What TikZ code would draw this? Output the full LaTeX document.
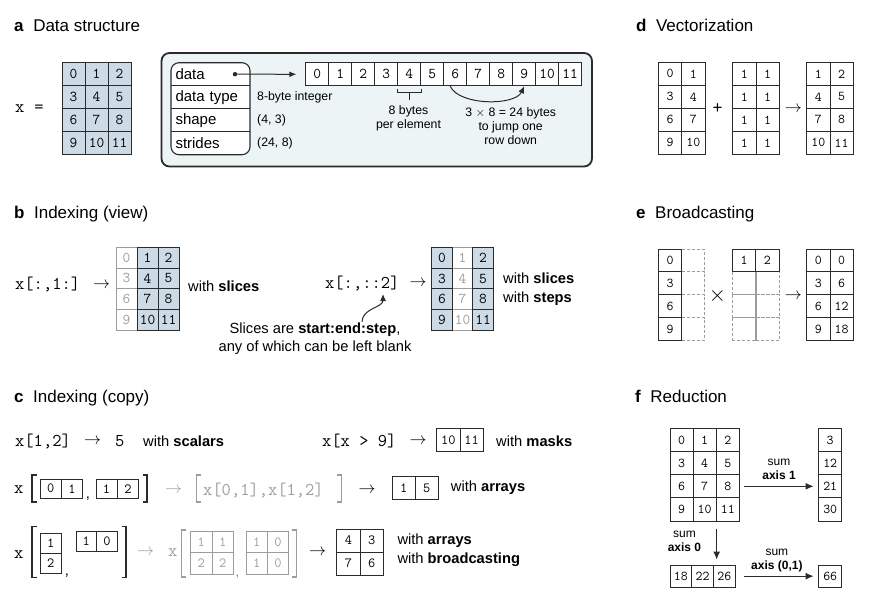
\documentclass[tikz,border=0pt]{standalone}
\usepackage{fix-cm}
\usepackage{fontspec}
\setmainfont{Liberation Sans}
\usetikzlibrary{arrows.meta}
\definecolor{cellblue}{HTML}{CDDBE6}
\definecolor{boxfill}{HTML}{EDF4F6}
\definecolor{lc}{HTML}{2B2B2B}
\definecolor{faded}{HTML}{9D9D9D}

\begin{document}
\begin{tikzpicture}[x=1pt,y=-1pt,>={Latex[length=7pt,width=6pt]},
  head/.style={inner sep=0pt,anchor=base west,font=\fontsize{17}{20}\selectfont},
  txt/.style={inner sep=0pt,font=\fontsize{14.7}{19}\selectfont},
  small/.style={inner sep=0pt,align=center,font=\fontsize{12.3}{14.3}\selectfont},
  code/.style={inner sep=0pt,anchor=west,font=\fontsize{18}{20}\ttfamily},
  arr/.style={inner sep=0pt,font=\fontsize{17}{17}\selectfont},
  cell/.style={draw=lc,line width=0.9pt,inner sep=0pt,minimum width=23pt,minimum height=23pt,font=\fontsize{15}{15}\ttfamily},
  cellc/.style={cell,font=\fontsize{14}{14}\ttfamily},
  celld/.style={cell,minimum width=23.3pt,font=\fontsize{13.5}{13.5}\ttfamily},
  field/.style={inner xsep=4.5pt,inner ysep=0pt,minimum height=23pt,text width=70pt,font=\fontsize{15}{15}\selectfont},
  ghost/.style={draw=faded,line width=0.9pt,dash pattern=on 3pt off 2pt,inner sep=0pt},
  brk/.style={line width=1.4pt,draw=lc},
  link/.style={->,line width=1pt,draw=lc}]
\useasboundingbox (0,0) rectangle (877,610);

\node[head] (ha) at (14,32) {\textbf{a}\hspace{9.5pt}Data structure};
\node[code] (xeq) at (15,109) {x\hspace{10pt}=};
\foreach \v [count=\k from 0] in {0,...,11}
  \node[cell,fill=cellblue] (xa\v) at ({73.5+23*mod(\k,3)},{73.8+23*int(\k/3)}) {\v};

\draw[line width=1.8pt,draw=lc,fill=boxfill,rounded corners=8pt] (161.5,53) rectangle (592,166.5);
\draw[line width=1.1pt,draw=lc,fill=white,rounded corners=8pt] (171,62.7) rectangle (250,154.7);
\node[field] (fdata) at (210.5,74.2) {data};
\node[field] (ftype) at (210.5,97.2) {data type};
\node[field] (fshape) at (210.5,120.2) {shape};
\node[field] (fstrides) at (210.5,143.2) {strides};
\draw[line width=1.1pt,draw=lc] (fdata.south west) -- (fdata.south east)
  (ftype.south west) -- (ftype.south east) (fshape.south west) -- (fshape.south east);
\node[small,anchor=west] (vtype) at (257,97.5) {8-byte integer};
\node[small,anchor=west] (vshape) at (257,120.2) {(4, 3)};
\node[small,anchor=west] (vstrides) at (257,143.2) {(24, 8)};

\foreach \v in {0,...,11}
  \node[cell,fill=white] (m\v) at ({317.2+23*\v},74.3) {\v};
\node[circle,fill=lc,inner sep=0pt,minimum size=4.5pt] (ptr) at (235,74.2) {};
\draw[link,shorten >=9pt] (ptr) -- (m0);
\draw[line width=0.9pt,draw=lc] ([yshift=-3pt]m4.south west) -- ([yshift=-6pt]m4.south west)
  -- ([yshift=-6pt]m4.south east) -- ([yshift=-3pt]m4.south east);
\draw[line width=0.9pt,draw=lc] ([yshift=-6pt]m4.south) -- ([yshift=-14pt]m4.south);
\node[small] (per) at (408.5,118) {8 bytes\\per element};
\draw[link] ([xshift=-5pt]m6.south) to[out=-65,in=-115,looseness=0.75] (m9.south);
\node[small] (jump) at (510.7,126) {3 $\times$ 8 = 24 bytes\\to jump one\\row down};

\node[head] (hb) at (14,218) {\textbf{b}\hspace{9.5pt}Indexing (view)};
\node[code] (sl1) at (15,285) {x[:,1:]};
\node[arr] (ar1) at (101.5,285) {$\rightarrow$};
\foreach \v [count=\r from 0] in {0,3,6,9}
  \node[cell,minimum width=21pt,minimum height=20.7pt,draw=faded,text=faded] (sa\v) at (126.5,{257.65+20.7*\r}) {\v};
\foreach \v [count=\k from 0] in {1,2,4,5,7,8,10,11}
  \node[cell,minimum width=21pt,minimum height=20.7pt,fill=cellblue] (sa\v) at ({147.5+21*mod(\k,2)},{257.65+20.7*int(\k/2)}) {\v};
\node[txt,anchor=west] (ws1) at (188,286.7) {with \textbf{slices}};

\node[code] (sl2) at (325,283.3) {x[:,::2]};
\node[arr] (ar2) at (418,283.3) {$\rightarrow$};
\foreach \v [count=\r from 0] in {1,4,7,10}
  \node[cell,minimum width=20.55pt,minimum height=20.6pt,draw=faded,text=faded] (sb\v) at (462.5,{258+20.6*\r}) {\v};
\foreach \v [count=\k from 0] in {0,2,3,5,6,8,9,11}
  \node[cell,minimum width=20.55pt,minimum height=20.6pt,fill=cellblue] (sb\v) at ({442+41.1*mod(\k,2)},{258+20.6*int(\k/2)}) {\v};
\node[txt,anchor=west,align=left] (ws2) at (503,289) {with \textbf{slices}\\with \textbf{steps}};
\node[txt,align=center,font=\fontsize{14.7}{17.5}\selectfont] (note) at (315,338.7) {Slices are \textbf{start:end:step},\\any of which can be left blank};
\coordinate (two) at (383,294);
\draw[link] ([xshift=47pt,yshift=1pt]note.north) to[out=90,in=-90] (two);

\node[head] (hc) at (14,402) {\textbf{c}\hspace{9.5pt}Indexing (copy)};
\node[code] (sc) at (15,441) {x[1,2]};
\node[arr] (ar3) at (92.5,441) {$\rightarrow$};
\node[code] (five) at (115,441) {5};
\node[txt,anchor=west] (wsc) at (143,441) {with \textbf{scalars}};
\node[code] (mk) at (322,441) {x[x > 9]};
\node[arr] (ar4) at (418,441) {$\rightarrow$};
\node[cellc,minimum width=23.3pt,minimum height=23.4pt] (mk10) at (448.35,440) {10};
\node[cellc,minimum width=23.3pt,minimum height=23.4pt] (mk11) at (471.65,440) {11};
\node[txt,anchor=west] (wmk) at (496,441) {with \textbf{masks}};

\node[code] (x2) at (14,490) {x};
\draw[brk] (36.5,475) -- (32,475) -- (32,502) -- (36.5,502);
\node[cellc,minimum width=21.3pt,minimum height=19.3pt] (ia0) at (50.65,488.65) {0};
\node[cellc,minimum width=21.3pt,minimum height=19.3pt] (ia1) at (71.95,488.65) {1};
\node[txt] (cm1) at (88,499) {,};
\node[cellc,minimum width=21.3pt,minimum height=19.3pt] (ib1) at (106.6,488.65) {1};
\node[cellc,minimum width=21.3pt,minimum height=19.3pt] (ib2) at (127.9,488.65) {2};
\draw[brk] (142.5,475) -- (147,475) -- (147,502) -- (142.5,502);
\node[arr,text=faded] (ar5) at (173.5,490) {$\rightarrow$};
\draw[brk,draw=faded] (201,475) -- (196.7,475) -- (196.7,502) -- (201,502);
\node[code,text=faded] (gidx) at (203,490) {x[0,1],x[1,2]};
\draw[brk,draw=faded] (337,475) -- (341.7,475) -- (341.7,502) -- (337,502);
\node[arr] (ar6) at (367,490) {$\rightarrow$};
\node[cellc,minimum height=22.3pt] (res1) at (403.8,487.8) {1};
\node[cellc,minimum height=22.3pt] (res5) at (426.8,487.8) {5};
\node[txt,anchor=west] (war) at (450.7,488) {with \textbf{arrays}};

\node[code] (x3) at (14,555) {x};
\draw[brk] (36.5,526.7) -- (32,526.7) -- (32,577.7) -- (36.5,577.7);
\node[cellc,minimum width=21.7pt,minimum height=20pt] (ja1) at (50.85,543.3) {1};
\node[cellc,minimum width=21.7pt,minimum height=20pt] (ja2) at (50.85,563.3) {2};
\node[txt] (cm2) at (67,576) {,};
\node[cellc,minimum width=20.7pt,minimum height=20.7pt] (jb1) at (86.35,541.35) {1};
\node[cellc,minimum width=20.7pt,minimum height=20.7pt] (jb0) at (107.05,541.35) {0};
\draw[brk] (121.5,526.7) -- (126,526.7) -- (126,577.7) -- (121.5,577.7);
\node[arr,text=faded] (ar7) at (145.5,552) {$\rightarrow$};
\node[code,text=faded] (gx) at (168,552.7) {x};
\draw[brk,draw=faded] (186,530) -- (181.7,530) -- (181.7,577) -- (186,577);
\foreach \v [count=\k from 0] in {1,1,2,2}
  \node[cellc,minimum width=21.3pt,minimum height=21.15pt,draw=faded,text=faded] (ga\k) at ({201.35+21.3*mod(\k,2)},{542.3+21.15*int(\k/2)}) {\v};
\node[txt,text=faded] (cm3) at (237.5,577) {,};
\foreach \v [count=\k from 0] in {1,0,1,0}
  \node[cellc,minimum width=21.3pt,minimum height=21.15pt,draw=faded,text=faded] (gb\k) at ({256.65+21.3*mod(\k,2)},{542.3+21.15*int(\k/2)}) {\v};
\draw[brk,draw=faded] (292.2,530) -- (296.7,530) -- (296.7,577) -- (292.2,577);
\node[arr] (ar8) at (317.5,552) {$\rightarrow$};
\foreach \v [count=\k from 0] in {4,3,7,6}
  \node[cellc,minimum width=23.3pt] (jr\k) at ({348.35+23.3*mod(\k,2)},{540.5+23*int(\k/2)}) {\v};
\node[txt,anchor=west,align=left] (wbc) at (397.3,550.5) {with \textbf{arrays}\\with \textbf{broadcasting}};

\node[head] (hd) at (636,32) {\textbf{d}\hspace{9.5pt}Vectorization};
\foreach \v [count=\k from 0] in {0,1,3,4,6,7,9,10}
  \node[celld] (da\k) at ({670+23.3*mod(\k,2)},{73.8+23*int(\k/2)}) {\v};
\node[txt,font=\fontsize{17}{17}\selectfont] (plus) at (717.7,109) {+};
\foreach \v [count=\k from 0] in {1,1,1,1,1,1,1,1}
  \node[celld] (db\k) at ({744.35+23.3*mod(\k,2)},{73.8+23*int(\k/2)}) {\v};
\node[arr] (ar9) at (793.4,109) {$\rightarrow$};
\foreach \v [count=\k from 0] in {1,2,4,5,7,8,10,11}
  \node[celld] (dc\k) at ({818.35+23.3*mod(\k,2)},{73.8+23*int(\k/2)}) {\v};

\node[head] (he) at (636,218) {\textbf{e}\hspace{9.5pt}Broadcasting};
\foreach \r in {0,...,3}
  \node[ghost,minimum width=22.6pt,minimum height=22.9pt] (eg\r) at (693,{260.45+22.9*\r}) {};
\foreach \v [count=\r from 0] in {0,3,6,9}
  \node[celld,minimum width=23.4pt,minimum height=22.9pt] (ea\v) at (670,{260.45+22.9*\r}) {\v};
\node[arr,font=\fontsize{22}{22}\selectfont] (times) at (717.3,296) {$\times$};
\foreach \r in {1,2,3}
  \foreach \c in {0,1}
    \node[ghost,minimum width=23.3pt,minimum height=22.9pt] (eh\r\c) at ({744+23.3*\c},{260.45+22.9*\r}) {};
\node[celld,minimum height=22.9pt] (eb1) at (744,260.45) {1};
\node[celld,minimum height=22.9pt] (eb2) at (767.3,260.45) {2};
\draw[draw=faded,line width=0.9pt] (eb1.south east) -- (eh30.south east);
\node[arr] (ar10) at (793.4,296) {$\rightarrow$};
\foreach \v [count=\k from 0] in {0,0,3,6,6,12,9,18}
  \node[celld,minimum height=22.9pt] (ec\k) at ({818.35+23.3*mod(\k,2)},{260.45+22.9*int(\k/2)}) {\v};

\node[head] (hf) at (635,402) {\textbf{f}\hspace{9.5pt}Reduction};
\foreach \v [count=\k from 0] in {0,...,11}
  \node[celld,minimum width=23.1pt,minimum height=23.2pt] (f\v) at ({681.55+23.1*mod(\k,3)},{439.9+23.2*int(\k/3)}) {\v};
\foreach \v [count=\r from 0] in {3,12,21,30}
  \node[celld,minimum width=23pt,minimum height=23.2pt] (fs\r) at (830.2,{439.9+23.2*\r}) {\v};
\foreach \v [count=\k from 0] in {18,22,26}
  \node[celld,minimum width=21.7pt,minimum height=22.3pt] (r\k) at ({680.85+21.7*\k},576.15) {\v};
\node[celld,minimum width=23pt,minimum height=22.3pt] (f66) at (830.2,576.15) {66};
\draw[link,shorten <=4pt,shorten >=4.7pt,>={Latex[length=8pt,width=7pt]}] (f8) -- node[small,above=6pt,font=\fontsize{12}{14}\selectfont] {sum\\\textbf{axis 1}} (fs2);
\draw[link,shorten <=7pt,shorten >=5pt,>={Latex[length=8pt,width=7pt]}] ([xshift=12pt]f10.south) -- node[small,left=15pt,pos=0.45,font=\fontsize{12}{14}\selectfont] {sum\\\textbf{axis 0}} ([xshift=12pt]f10.south |- r1.north);
\draw[link,shorten <=8.2pt,shorten >=4.7pt,>={Latex[length=8pt,width=7pt]}] (r2) -- node[small,above=4pt,font=\fontsize{12}{14}\selectfont] {sum\\\textbf{axis (0,1)}} (f66);
\end{tikzpicture}
\end{document}
